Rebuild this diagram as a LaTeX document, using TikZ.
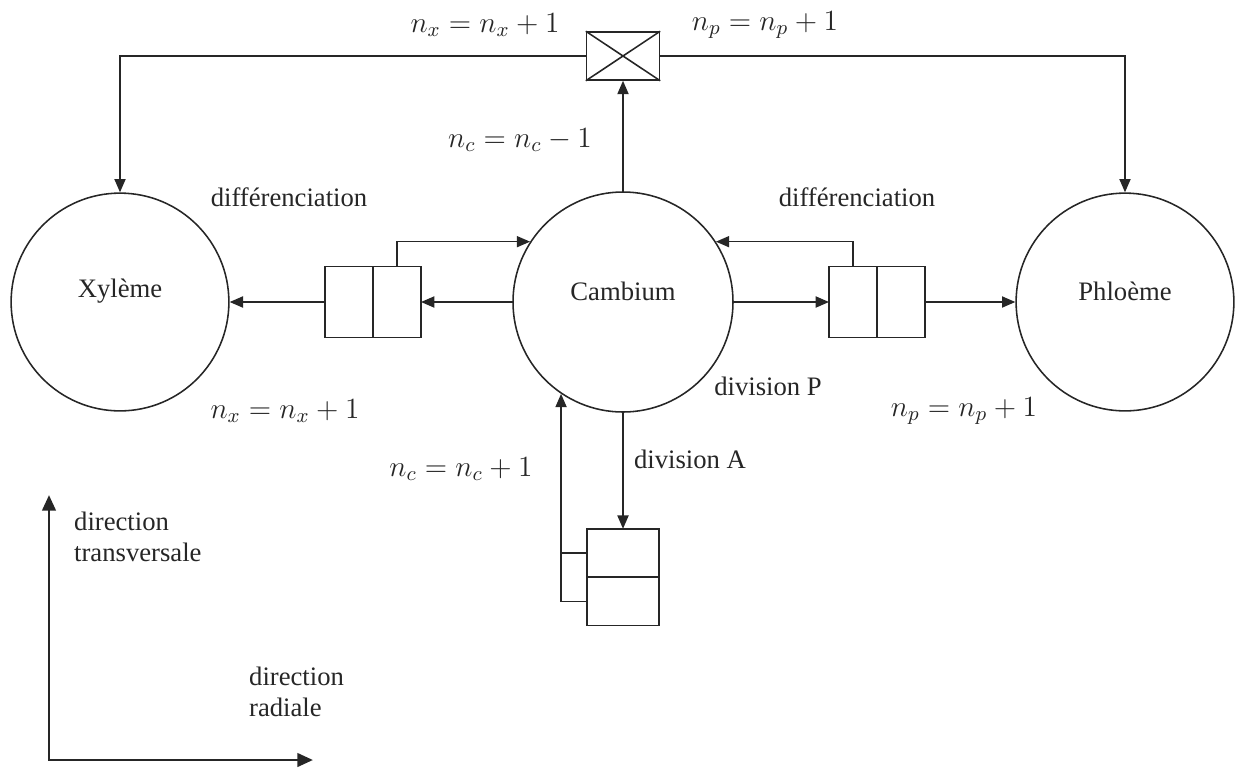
\documentclass[tikz,border=0pt]{standalone}
\usepackage{fix-cm}
\usepackage[no-math]{fontspec}
\setmainfont{Liberation Serif}
\usetikzlibrary{arrows.meta,positioning}

\begin{document}
\begin{tikzpicture}[
  x=0.45pt, y=-0.45pt,
  every node/.style={font=\fontsize{12}{14}\selectfont,align=left,text=black!85},
  eqn/.style={font=\fontsize{13.2}{15}\selectfont},
  tissue/.style={draw,circle,minimum size=98pt,inner sep=0pt,label={[yshift=5pt]center:#1}},
  cell/.style={draw,minimum width=21.6pt,minimum height=32pt,inner sep=0pt,outer sep=0pt},
  vcell/.style={draw,minimum width=32.4pt,minimum height=21.8pt,inner sep=0pt,outer sep=0pt},
  crossbox/.style={draw,minimum width=32.8pt,minimum height=21.6pt,inner sep=0pt},
  arrow/.style={-{Triangle[length=6pt,width=5pt]}},
  axis/.style={{Triangle[length=7pt,width=6pt]}-{Triangle[length=7pt,width=6pt]},line width=1.3pt},
  line width=0.7pt, draw=black!85
]
\useasboundingbox (0,0) rectangle (1236,767);

% tissus
\node[tissue=Xylème] (xyl) at (120,302) {};
\node[tissue=Cambium,minimum size=99pt] (cam) at (623,302) {};
\node[tissue=Phloème] (phl) at (1125,302) {};

% cellules en differenciation
\node[cell] (lxa) at (349,302) {};
\node[cell,right=0pt of lxa] (lxb) {};
\node[cell] (rxa) at (853,302) {};
\node[cell,right=0pt of rxa] (rxb) {};
\node[vcell] (bt) at (623,553) {};
\node[vcell,below=0pt of bt] (bb) {};
\node[crossbox] (cross) at (623,56) {};
\draw (cross.north west) -- (cross.south east) (cross.north east) -- (cross.south west);

% fleches
\draw[arrow] (cam) -- (cross);
\draw[arrow] (cross) -| (xyl);
\draw[arrow] (cross) -| (phl);
\draw[arrow] (cam) -- (lxb);
\draw[arrow] (lxa) -- (xyl);
\draw[arrow] (lxb.north) |- (cam.147);
\draw[arrow] (cam) -- (rxa);
\draw[arrow] (rxb) -- (phl);
\draw[arrow] (rxa.north) |- (cam.33);
\draw[arrow] (cam) -- (bt);
\draw (bt.west) -- (bt.west -| cam.236);
\draw[arrow] (bb.west) -| (cam.236);

% etiquettes
\node[eqn] (nxtop) at (485,25) {$n_x = n_x + 1$};
\node[eqn] (nptop) at (765,25) {$n_p = n_p + 1$};
\node[eqn] (ncm) at (520,140) {$n_c = n_c - 1$};
\node (difx) at (289,197) {différenciation};
\node (difp) at (857,197) {différenciation};
\node[eqn] (nxlow) at (285,411) {$n_x = n_x + 1$};
\node (divp) at (768,386) {division P};
\node[eqn] (nplow) at (964,411) {$n_p = n_p + 1$};
\node[eqn] (ncp) at (461,469) {$n_c = n_c + 1$};
\node (diva) at (690,459) {division A};

% axes
\coordinate (orig) at (49,760);
\coordinate (ytip) at (49,495);
\coordinate (xtip) at (313,760);
\draw[axis] (ytip) -- (orig) -- (xtip);
\node[anchor=west] (trans) at (66,537) {direction\\transversale};
\node[anchor=west] (rad) at (241,692) {direction\\radiale};
\end{tikzpicture}
\end{document}
